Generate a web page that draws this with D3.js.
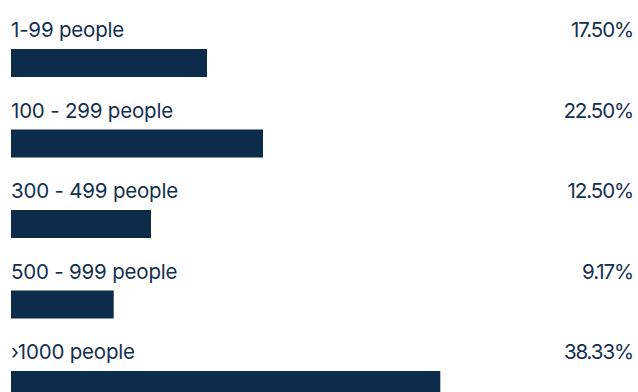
<!DOCTYPE html>
<html>
<head>
<meta charset="utf-8">
<script src="https://cdn.jsdelivr.net/npm/d3@7/dist/d3.min.js"></script>
<style>
html,body{margin:0;padding:0;background:#fff;overflow:hidden;}
svg{display:block;}
</style>
</head>
<body>
<svg id="chart" width="638" height="392"></svg>
<script>
const categories = ["1-99 people", "100 - 299 people", "300 - 499 people", "500 - 999 people", "\u203A1000 people"];
const values = [17.50, 22.50, 12.50, 9.17, 38.33];
const valueLabels = ["17.50%", "22.50%", "12.50%", "9.17%", "38.33%"];

const svg = d3.select("#chart");
const x = d3.scaleLinear().domain([0, 50]).range([11, 571]);
const y = d3.scalePoint().domain(categories).range([49, 371]);
const barH = 28;

const g = svg.selectAll("g.row").data(categories).enter().append("g").attr("class", "row");

g.append("rect")
  .attr("x", x(0))
  .attr("y", d => y(d))
  .attr("width", (d, i) => x(values[i]) - x(0))
  .attr("height", barH)
  .attr("fill", "#0d2b4a");

g.append("text")
  .attr("x", 11)
  .attr("y", d => y(d) - 12)
  .attr("font-family", "Inter, 'Open Sans', sans-serif")
  .attr("font-size", 20.5)
  .attr("letter-spacing", -0.2)
  .attr("fill", "#13304f")
  .text(d => d);

g.append("text")
  .attr("x", 633)
  .attr("y", d => y(d) - 12)
  .attr("text-anchor", "end")
  .attr("font-family", "Inter, 'Open Sans', sans-serif")
  .attr("font-size", 20.5)
  .attr("letter-spacing", -1.1)
  .attr("fill", "#13304f")
  .text((d, i) => valueLabels[i]);
</script>
</body>
</html>
